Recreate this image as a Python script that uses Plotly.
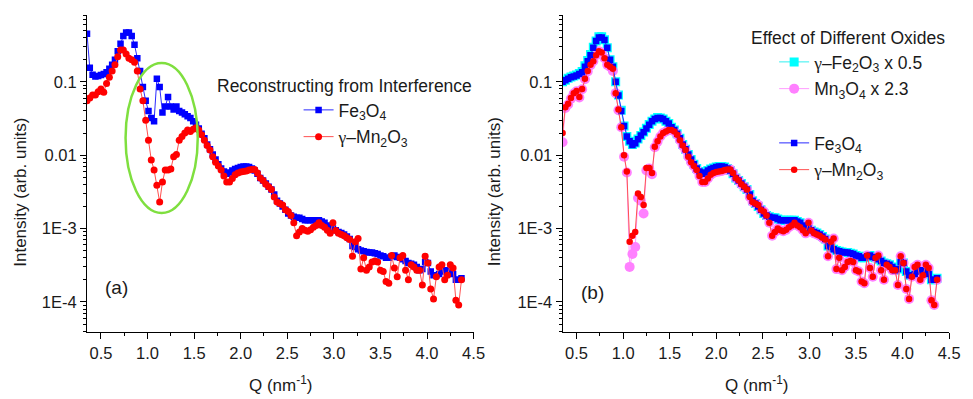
import numpy as np
import plotly.graph_objects as go

# ---------------- data ----------------
q_head = [round(v, 2) for v in np.arange(0.35, 1.5501, 0.03)]   # 41 points
q_tail = [round(v, 2) for v in np.arange(1.58, 4.3701, 0.03)]   # 94 points

# panel (a) reconstructed curves, low-Q part
fe_a_head = [0.45, 0.155, 0.125, 0.118, 0.12, 0.124, 0.128, 0.135, 0.15, 0.17,
             0.2, 0.26, 0.33, 0.42, 0.47, 0.47, 0.42, 0.32, 0.21, 0.14,
             0.085, 0.055, 0.04, 0.032, 0.029, 0.11, 0.085, 0.038, 0.046, 0.062,
             0.046, 0.042, 0.046, 0.04, 0.038, 0.036, 0.034, 0.032, 0.029, 0.026,
             0.023]
mn_a_head = [0.055, 0.06, 0.066, 0.066, 0.073, 0.08, 0.072, 0.095, 0.115, 0.14,
             0.17, 0.22, 0.27, 0.27, 0.24, 0.21, 0.2, 0.185, 0.14, 0.08,
             0.055, 0.03, 0.016, 0.0086, 0.0063, 0.0039, 0.0023, 0.0043, 0.0063, 0.0063,
             0.0065, 0.0095, 0.0102, 0.016, 0.018, 0.02, 0.022, 0.021, 0.0225, 0.0236,
             0.022]

# panel (b) curves, low-Q part
fe_b_head = [0.1, 0.105, 0.11, 0.115, 0.118, 0.122, 0.128, 0.135, 0.16, 0.19,
             0.23, 0.29, 0.36, 0.4, 0.4, 0.37, 0.29, 0.2, 0.16, 0.1,
             0.065, 0.04, 0.025, 0.018, 0.0155, 0.0138, 0.0145, 0.0165, 0.0185, 0.0205,
             0.023, 0.026, 0.029, 0.031, 0.032, 0.032, 0.031, 0.029, 0.027, 0.024,
             0.022]
mn_b_head = [0.02, 0.045, 0.05, 0.06, 0.07, 0.075, 0.062, 0.08, 0.11, 0.14,
             0.17, 0.19, 0.23, 0.26, 0.25, 0.21, 0.17, 0.16, 0.15, 0.07,
             0.042, 0.024, 0.01, 0.006, 0.00066, 0.0008, 0.0009, 0.003, 0.0027, 0.0021,
             0.0067, 0.0067, 0.0057, 0.013, 0.0155, 0.018, 0.02, 0.021, 0.022, 0.022,
             0.021]
gfe_head = [0.1, 0.105, 0.112, 0.116, 0.12, 0.124, 0.13, 0.138, 0.165, 0.195,
            0.235, 0.295, 0.36, 0.41, 0.41, 0.375, 0.29, 0.2, 0.16, 0.1,
            0.066, 0.041, 0.025, 0.018, 0.0155, 0.014, 0.0146, 0.0166, 0.0186, 0.0207,
            0.0232, 0.0262, 0.029, 0.031, 0.0325, 0.032, 0.031, 0.029, 0.027, 0.024,
            0.022]
mn3_head = [0.015, 0.044, 0.049, 0.059, 0.069, 0.074, 0.061, 0.079, 0.108, 0.138,
            0.168, 0.19, 0.23, 0.26, 0.25, 0.21, 0.17, 0.16, 0.14, 0.07,
            0.041, 0.024, 0.0095, 0.0058, 0.0003, 0.00045, 0.00056, 0.0026, 0.0024, 0.0016,
            0.0062, 0.0066, 0.0055, 0.0128, 0.0153, 0.018, 0.02, 0.021, 0.022, 0.022,
            0.021]

# high-Q part, common to both panels
fe_tail = [0.0195, 0.017, 0.014, 0.012, 0.0102, 0.0087, 0.0075, 0.0066, 0.006, 0.0056,
           0.0058, 0.0062, 0.0065, 0.0067, 0.0069, 0.007, 0.007, 0.0069, 0.0066, 0.0062,
           0.0056, 0.0049, 0.0045, 0.0041, 0.0037, 0.0034, 0.0029, 0.0024, 0.0022, 0.002,
           0.0018, 0.0016, 0.0015, 0.00145, 0.0014, 0.0014, 0.00135, 0.0013, 0.0013, 0.0013,
           0.0013, 0.0013, 0.0013, 0.00125, 0.0012, 0.0011, 0.00104, 0.001, 0.00095, 0.0009,
           0.00087, 0.00083, 0.00078, 0.00072, 0.00058, 0.00056, 0.00052, 0.0005, 0.00049, 0.00048,
           0.00047, 0.00047, 0.00046, 0.00045, 0.00043, 0.00042, 0.0004, 0.0004, 0.00042, 0.00043,
           0.00041, 0.0004, 0.00038, 0.00036, 0.00034, 0.00033, 0.00032, 0.0003, 0.00027, 0.00028,
           0.00035, 0.00034, 0.00026, 0.00023, 0.00023, 0.00024, 0.00026, 0.00027, 0.00026, 0.00026,
           0.00024, 0.0002, 0.0002, 0.00021]
mn_tail = [0.019, 0.016, 0.0135, 0.0118, 0.0095, 0.008, 0.0071, 0.0063, 0.0052, 0.0043,
           0.0043, 0.0048, 0.0054, 0.0057, 0.0059, 0.006, 0.0061, 0.0063, 0.0064, 0.0064,
           0.0057, 0.0049, 0.0045, 0.004, 0.0037, 0.0034, 0.0027, 0.0023, 0.0022, 0.0021,
           0.0018, 0.0017, 0.0015, 0.0012, 0.0008, 0.0009, 0.001, 0.00095, 0.00092, 0.00096,
           0.00104, 0.0011, 0.0012, 0.0011, 0.00104, 0.00095, 0.00086, 0.0012, 0.00094, 0.00086,
           0.00083, 0.0008, 0.00075, 0.00071, 0.00042, 0.00066, 0.00073, 0.00028, 0.0004, 0.00027,
           0.0003, 0.00035, 0.00036, 0.00035, 0.00027, 0.00026, 0.00019, 0.00018, 0.00043, 0.00029,
           0.00022, 0.0004, 0.00043, 0.00027, 0.0002, 0.00032, 0.0003, 0.00027, 0.00027, 0.00017,
           0.00042, 0.00034, 0.00015, 0.00011, 0.00022, 0.0003, 0.00032, 0.0002, 0.00023, 0.00032,
           0.00029, 0.000105, 0.000091, 0.0002]

q = q_head + q_tail
fe_a = fe_a_head + fe_tail
mn_a = mn_a_head + mn_tail
fe_b = fe_b_head + fe_tail
mn_b = mn_b_head + mn_tail
gfe_b = gfe_head + fe_tail
mn3_b = mn3_head + mn_tail

y_tickvals = [1e-4, 1e-3, 1e-2, 1e-1]
y_ticktext = ["1E-4", "1E-3", "0.01", "0.1"]
x_tickvals = [0.5, 1.0, 1.5, 2.0, 2.5, 3.0, 3.5, 4.0, 4.5]
x_ticktext = ["0.5", "1.0", "1.5", "2.0", "2.5", "3.0", "3.5", "4.0", "4.5"]

# ---------------- styling ----------------
FONT = "Liberation Sans, Arial, sans-serif"
TXT = "#1a1a1a"
GAM = "<span style='font-family:Liberation Serif'>γ</span>–"

name_fe = "Fe<sub>3</sub>O<sub>4</sub>"
name_mn = GAM + "Mn<sub>2</sub>O<sub>3</sub>"
name_gfe = GAM + "Fe<sub>2</sub>O<sub>3</sub> x 0.5"
name_mn3 = "Mn<sub>3</sub>O<sub>4</sub> x 2.3"

fig = go.Figure()

def add(x, y, name, color, lcolor, symbol, size, xa, ya, legend, group):
    fig.add_trace(go.Scatter(
        x=x, y=y, name=name, mode="lines+markers",
        line=dict(color=lcolor, width=1),
        marker=dict(color=color, symbol=symbol, size=size, line=dict(width=0)),
        xaxis=xa, yaxis=ya, legend=legend, legendgroup=group))

# panel (a)
add(q, fe_a, name_fe, "#0000ff", "#2a2aff", "square", 6.5, "x", "y", "legend", "a1")
add(q, mn_a, name_mn, "#ff0000", "#ff5050", "circle", 7, "x", "y", "legend", "a2")
# panel (b)
add(q, gfe_b, name_gfe, "#00ffff", "#30f0f0", "square", 9, "x2", "y2", "legend2", "b1")
add(q, mn3_b, name_mn3, "#ff80ff", "#ff9cff", "circle", 10, "x2", "y2", "legend2", "b2")
add(q, fe_b, name_fe, "#0000ff", "#2a2aff", "square", 6.5, "x2", "y2", "legend3", "b3")
add(q, mn_b, name_mn, "#ff0000", "#ff5050", "circle", 6.5, "x2", "y2", "legend3", "b4")

W, H = 973, 399
ydom = [1 - 332 / H, 1 - 15 / H]

def xax(dom, anchor):
    return dict(domain=dom, anchor=anchor, range=[0.35, 4.5], showline=True, linecolor="black", linewidth=1,
                ticks="outside", ticklen=6, tickwidth=1, tickcolor="black",
                tickvals=x_tickvals, ticktext=x_ticktext,
                minor=dict(ticks="outside", ticklen=3, tickcolor="black",
                           tickvals=[0.75, 1.25, 1.75, 2.25, 2.75, 3.25, 3.75, 4.25]),
                tickfont=dict(family=FONT, size=16.5, color=TXT),
                showgrid=False, zeroline=False)

minor_y = [m * 10.0 ** e for e in range(-5, 0) for m in range(2, 10)]

def yax(anchor):
    return dict(domain=ydom, type="log", range=[-4.41, -0.09], anchor=anchor,
                showline=True, linecolor="black", linewidth=1,
                ticks="outside", ticklen=6, tickwidth=1, tickcolor="black",
                tickvals=y_tickvals, ticktext=y_ticktext,
                minor=dict(ticks="outside", ticklen=3, tickcolor="black", tickvals=minor_y),
                tickfont=dict(family=FONT, size=16.5, color=TXT),
                showgrid=False, zeroline=False)

legfont = dict(family=FONT, size=17.5, color=TXT)

def leg(xpx, ypx):
    return dict(x=xpx / W, y=1 - ypx / H, xanchor="left", yanchor="top",
                font=legfont, bgcolor="rgba(0,0,0,0)", borderwidth=0,
                traceorder="grouped", tracegroupgap=1, itemclick=False)

fig.update_layout(
    width=W, height=H, autosize=False,
    margin=dict(l=0, r=0, t=0, b=0),
    paper_bgcolor="white", plot_bgcolor="white",
    xaxis=xax([88 / W, 479 / W], "y"), yaxis=yax("x"),
    xaxis2=xax([569 / W, 960 / W], "y2"), yaxis2=yax("x2"),
    legend=leg(302, 92), legend2=leg(783, 44), legend3=leg(783, 125),
    showlegend=True,
)

ann = []
def text(x, y, s, size=17.5, xanchor="left", angle=0):
    ann.append(dict(x=x / W, y=1 - y / H, xref="paper", yref="paper", text=s, showarrow=False,
                    xanchor=xanchor, yanchor="middle", textangle=angle,
                    font=dict(family=FONT, size=size, color=TXT)))

text(217, 86, "Reconstructing from Interference")
text(758, 38, "Effect of Different Oxides")
text(104, 287, "(a)", size=19)
text(586, 292, "(b)", size=19)
text(20, 192, "Intensity (arb. units)", size=17, xanchor="center", angle=-90)
text(500, 192, "Intensity (arb. units)", size=17, xanchor="center", angle=-90)
text(284, 384, "Q (nm<sup>-1</sup>)", size=17, xanchor="center")
text(765, 384, "Q (nm<sup>-1</sup>)", size=17, xanchor="center")
fig.update_layout(annotations=ann)

fig.add_shape(type="circle", xref="paper", yref="paper",
              x0=127 / W, x1=200 / W, y0=1 - 213 / H, y1=1 - 63 / H,
              line=dict(color="#7fdf3f", width=2.5))

fig.write_html("out.html", config={"displayModeBar": False},
               post_script="document.body.style.margin='0';document.body.style.overflow='hidden';")
